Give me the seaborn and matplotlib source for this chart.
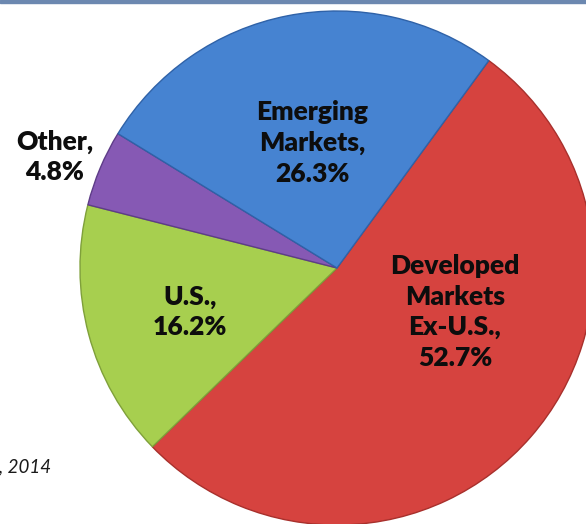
import matplotlib
matplotlib.use("Agg")
import matplotlib.pyplot as plt
import seaborn as sns
from matplotlib.patches import Rectangle

sns.set_theme(style="white")
plt.rcParams['font.family'] = ['Lato', 'DejaVu Sans']

categories = ["Developed\nMarkets\nEx-U.S.,", "U.S.,", "Other,", "Emerging\nMarkets,"]
values = [52.7, 16.2, 4.8, 26.3]
colors = ["#D6433F", "#A7CF4F", "#8659B4", "#4683D1"]
edge_colors = ["#A8302C", "#7FA03A", "#5E3C88", "#2F62A8"]
footnote = ", 2014"

W, H = 586, 524
fig = plt.figure(figsize=(W / 100, H / 100), dpi=100)
ax = fig.add_axes([0, 0, 1, 1])

cx, cy, r = 337, H - 268, 257
wedges, _ = ax.pie(values, colors=colors, startangle=53.8, counterclock=False,
                   center=(cx, cy), radius=r, frame=True,
                   wedgeprops=dict(linewidth=1.0))
for w, ec in zip(wedges, edge_colors):
    w.set_edgecolor(ec)
ax.set_xlim(0, W)
ax.set_ylim(0, H)
ax.set_aspect("equal")
ax.axis("off")

# label positions (pixel coords from top)
label_pos = [(455, 312), (190, 312), (55, 157), (312, 143)]
for cat, val, (x, y) in zip(categories, values, label_pos):
    ax.text(x, H - y, f"{cat}\n{val:.1f}%", ha="center", va="center",
            fontsize=19, fontweight="heavy", color="#0d0d0d",
            linespacing=1.32)

ax.text(-1, H - 467, footnote, ha="left", va="center", fontsize=13.5,
        style="italic", color="#1a1a1a")

ax.add_patch(Rectangle((0, H - 3), W, 3, color="#6C88B0", clip_on=False))

fig.savefig("out.png", dpi=100)
